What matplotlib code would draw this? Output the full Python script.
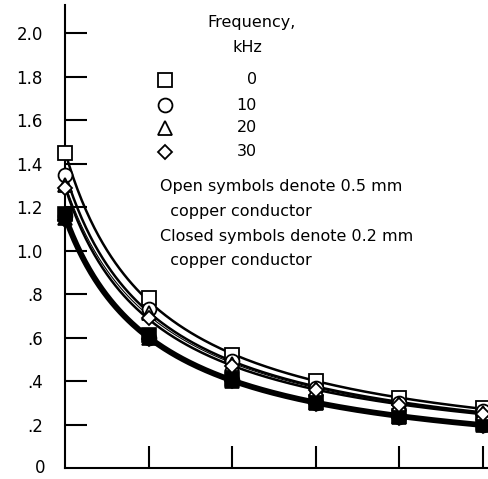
import numpy as np
import matplotlib.pyplot as plt

# x positions of the six measurement stations (no labels on the axis)
stations = [0, 1, 2, 3, 4, 5]

# open symbols: 0.5 mm copper conductor
open_0kHz = [1.45, 0.78, 0.52, 0.40, 0.32, 0.275]
open_10kHz = [1.35, 0.73, 0.49, 0.37, 0.30, 0.26]
open_20kHz = [1.30, 0.715, 0.48, 0.365, 0.295, 0.255]
open_30kHz = [1.29, 0.69, 0.47, 0.36, 0.29, 0.25]

# closed symbols: 0.2 mm copper conductor
closed_0kHz = [1.17, 0.61, 0.41, 0.305, 0.24, 0.205]
closed_10kHz = [1.16, 0.60, 0.405, 0.30, 0.235, 0.20]
closed_20kHz = [1.15, 0.60, 0.40, 0.30, 0.235, 0.20]
closed_30kHz = [1.14, 0.595, 0.40, 0.295, 0.23, 0.195]

freq_labels = ['0', '10', '20', '30']
markers = ['s', 'o', '^', 'D']

ytick_vals = [0, 0.2, 0.4, 0.6, 0.8, 1.0, 1.2, 1.4, 1.6, 1.8, 2.0]
ytick_labels = ['0', '.2', '.4', '.6', '.8', '1.0', '1.2', '1.4', '1.6', '1.8', '2.0']

plt.rcParams['font.family'] = ['DejaVu Sans']

fig = plt.figure(figsize=(4.89, 4.79), dpi=100)
ax = fig.add_axes([65 / 489, 11 / 479, 423 / 489, 463 / 479])


def smooth_curve(y):
    # quadratic fit in log-log space gives a smooth faired curve through the points
    x = np.array(stations, dtype=float)
    coef = np.polyfit(np.log(x + 1), np.log(y), 2)
    xs = np.linspace(0, 5, 200)
    return xs, np.exp(np.polyval(coef, np.log(xs + 1)))


open_series = [open_0kHz, open_10kHz, open_20kHz, open_30kHz]
closed_series = [closed_0kHz, closed_10kHz, closed_20kHz, closed_30kHz]
open_lw = [1.8, 1.8, 0.8, 1.8]

for y, lw in zip(open_series, open_lw):
    xs, ys = smooth_curve(y)
    ax.plot(xs, ys, color='black', lw=lw, zorder=2)
for y in [closed_0kHz, closed_30kHz]:
    xs, ys = smooth_curve(y)
    ax.plot(xs, ys, color='black', lw=2.6, zorder=2)

for y, m in zip(closed_series, markers):
    ms = 10 if m != 'D' else 7.5
    ax.plot(stations, y, linestyle='none', marker=m, ms=ms, mfc='black',
            mec='black', mew=1.2, zorder=3, clip_on=False)
for y, m in zip(open_series, markers):
    ms = 10 if m != 'D' else 7.5
    ax.plot(stations, y, linestyle='none', marker=m, ms=ms, mfc='white',
            mec='black', mew=1.3, zorder=4, clip_on=False)

ax.set_xlim(0, 5.06)
ax.set_ylim(0, 2.13)
ax.set_xticks([1, 2, 3, 4, 5])
ax.set_xticklabels([])
ax.set_yticks(ytick_vals[1:])
ax.set_yticklabels(ytick_labels[1:])
ax.text(-0.3, 0, ytick_labels[0], ha='center', va='center', fontsize=12)
ax.tick_params(axis='both', direction='in', length=16, width=1.5, labelsize=12)
ax.tick_params(axis='y', pad=16)
for s in ['top', 'right']:
    ax.spines[s].set_visible(False)
for s in ['left', 'bottom']:
    ax.spines[s].set_linewidth(1.5)

# legend, drawn in axes pixels
def px(x, y):
    return ((x - 65) / 423, (468 - y) / 463)

ax.text(*px(252, 23), 'Frequency,', transform=ax.transAxes, ha='center', va='center', fontsize=11.5)
ax.text(*px(247, 48), 'kHz', transform=ax.transAxes, ha='center', va='center', fontsize=11.5)
rows = [80, 105, 128, 152]
for lab, m, yy in zip(freq_labels, markers, rows):
    ms = 10 if m != 'D' else 7.5
    ax.plot(*px(165, yy), marker=m, ms=ms, mfc='white', mec='black', mew=1.3,
            transform=ax.transAxes, clip_on=False)
    ax.text(*px(257, yy), lab, transform=ax.transAxes, ha='right', va='center', fontsize=11.5)

notes = ['Open symbols denote 0.5 mm', '  copper conductor',
         'Closed symbols denote 0.2 mm', '  copper conductor']
for t, yy in zip(notes, [187, 212, 237, 261]):
    ax.text(*px(160, yy), t, transform=ax.transAxes, ha='left', va='center', fontsize=11.5)

fig.savefig('out.png', dpi=100)
